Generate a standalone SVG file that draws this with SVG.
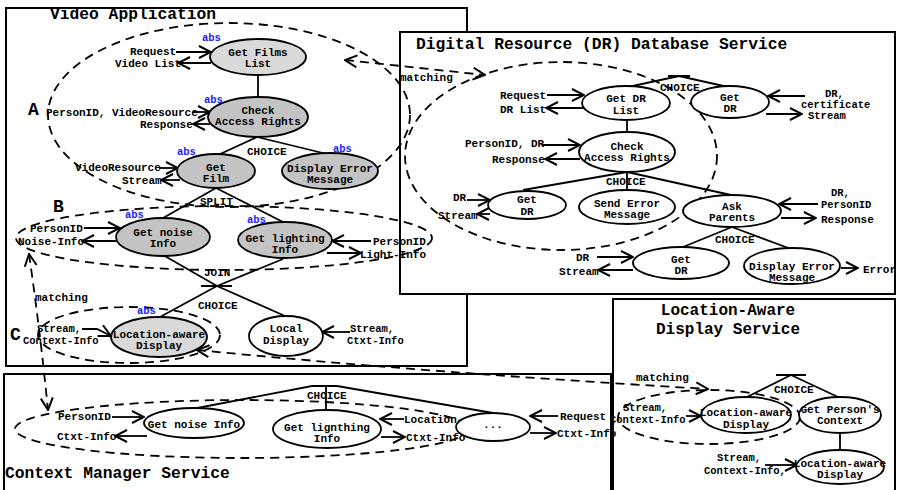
<svg xmlns="http://www.w3.org/2000/svg" width="898" height="490" viewBox="0 0 898 490">
<defs>
<style>
.fr{fill:#fff;stroke:#000;stroke-width:2}
.t{font-family:"Liberation Mono","Courier New",monospace;font-weight:bold;font-size:11px;fill:#000}
.s{font-size:10.5px}
.c{text-anchor:middle}
.ttl{font-size:16.3px}
.abs{font-size:10.5px;fill:#1a1aff}
.big{font-size:18px}
.nd{stroke:#000;stroke-width:1.8}
.w{fill:#fff}
.g1{fill:#d9d9d9}
.g2{fill:#c4c4c4}
.ln{fill:none;stroke:#000;stroke-width:1.8}
.ar{fill:none;stroke:#000;stroke-width:1.8;marker-end:url(#ah)}
.ds{fill:none;stroke:#000;stroke-width:1.8;stroke-dasharray:9,6}
.dm{fill:none;stroke:#000;stroke-width:1.8;stroke-dasharray:9,6;marker-end:url(#ah);marker-start:url(#ahs)}
</style>
<marker id="ah" viewBox="0 0 14 14" refX="13" refY="7" markerWidth="14" markerHeight="14" markerUnits="userSpaceOnUse" orient="auto"><path d="M1,1 L13,7 L1,13" fill="none" stroke="#000" stroke-width="2" stroke-dasharray="none"/></marker>
<marker id="ahs" viewBox="0 0 14 14" refX="13" refY="7" markerWidth="14" markerHeight="14" markerUnits="userSpaceOnUse" orient="auto-start-reverse"><path d="M1,1 L13,7 L1,13" fill="none" stroke="#000" stroke-width="2" stroke-dasharray="none"/></marker>
</defs>
<rect width="898" height="490" fill="#fff"/>

<g id="frame-video">
<rect class="fr" x="6" y="8" width="461" height="358"/>
<text class="t ttl" x="50" y="19">Video Application</text>
</g>
<g id="frame-dr">
<rect class="fr" x="400" y="32" width="495" height="262"/>
<text class="t ttl" x="416" y="49">Digital Resource (DR) Database Service</text>
</g>
<g id="frame-lads">
<rect class="fr" x="613" y="299" width="282" height="200"/>
<text class="t ttl c" x="728" y="315" style="font-size:16px">Location-Aware</text>
<text class="t ttl c" x="728" y="334" style="font-size:16px">Display Service</text>
</g>
<g id="frame-cm">
<rect class="fr" x="4" y="374" width="607" height="130"/>
<text class="t ttl" x="5" y="478">Context Manager Service</text>
</g>

<g id="scopes">
<ellipse class="ds" cx="229" cy="115" rx="181" ry="92"/>
<ellipse class="ds" cx="224" cy="238" rx="208" ry="32"/>
<ellipse class="ds" cx="129" cy="335" rx="91" ry="28"/>
<ellipse class="ds" cx="561" cy="156" rx="156" ry="94"/>
<ellipse class="ds" cx="709" cy="417" rx="91" ry="27"/>
<ellipse class="ds" cx="242" cy="429" rx="227" ry="29"/>
<text class="t big" x="28" y="115">A</text>
<text class="t big" x="53" y="212">B</text>
<text class="t big" x="10" y="340">C</text>
</g>

<g id="connectors">
<!-- Video app tree -->
<path class="ln" d="M258,75 V98"/>
<path class="ln" d="M257,137 L218,155 M257,137 L327,154"/>
<text class="t" x="247" y="155">CHOICE</text>
<path class="ln" d="M216,188 L163,218 M216,188 L283,222"/>
<text class="t" x="200" y="205">SPLIT</text>
<path class="ln" d="M163,255 L217,286 L285,316 M283,259 L217,286 L160,317 M201,286 H232"/>
<text class="t" x="204" y="276">JOIN</text>
<text class="t" x="198" y="309">CHOICE</text>
<!-- DR tree -->
<path class="ln" d="M628,87 L679,76 L728,87 M668,76 H690"/>
<text class="t" x="660" y="91">CHOICE</text>
<path class="ln" d="M627,120 V132"/>
<path class="ln" d="M627,172 L523,190 M627,172 V190 M627,172 L731,195"/>
<text class="t" x="606" y="185">CHOICE</text>
<path class="ln" d="M732,227 L683,247 M732,227 L791,249"/>
<text class="t" x="715" y="243">CHOICE</text>
<!-- LADS tree -->
<path class="ln" d="M776,375 H806 M791,375 L745,398 M791,375 L838,397 M840,433 V450"/>
<text class="t" x="774" y="393">CHOICE</text>
<!-- CM tree -->
<path class="ln" d="M312,386 H337 M312,386 L192,409 M337,386 L493,413 M326,386 V410"/>
<text class="t" x="307" y="399">CHOICE</text>

<!-- Video app io -->
<path class="ar" d="M176,52 H211"/>
<text class="t" x="130" y="55">Request</text>
<path class="ar" d="M211,63 H178"/>
<text class="t" x="115" y="67">Video List</text>
<path class="ar" d="M193,112 H210"/>
<text class="t" x="46" y="116">PersonID, VideoResource</text>
<path class="ar" d="M210,124 H193"/>
<text class="t" x="140" y="128">Response</text>
<path class="ar" d="M159,168 H178"/>
<text class="t" x="75" y="171">VideoResource</text>
<path class="ar" d="M180,180 H161"/>
<text class="t" x="122" y="184">Stream</text>
<path class="ar" d="M84,228 H120"/>
<text class="t" x="30" y="232">PersonID</text>
<path class="ar" d="M118,241 H82"/>
<text class="t" x="18" y="245">Noise-Info</text>
<path class="ar" d="M371,241 H332"/>
<text class="t" x="373" y="245">PersonID</text>
<path class="ar" d="M327,253 H361"/>
<text class="t" x="360" y="258">Light-Info</text>
<path class="ar" d="M82,329 L97,329 L111,336"/>
<text class="t s" x="37" y="332">Stream,</text>
<text class="t s" x="23" y="344">Context-Info</text>
<path class="ar" d="M350,332 H322"/>
<text class="t s" x="350" y="332">Stream,</text>
<text class="t s" x="347" y="344">Ctxt-Info</text>

<!-- DR io -->
<path class="ar" d="M547,95 H584"/>
<text class="t" x="500" y="99">Request</text>
<path class="ar" d="M584,108 H546"/>
<text class="t" x="500" y="113">DR List</text>
<path class="ar" d="M805,96 H768"/>
<path class="ar" d="M766,114 H802"/>
<text class="t s" x="825" y="97">DR,</text>
<text class="t s" x="801" y="108">certificate</text>
<text class="t s" x="808" y="119">Stream</text>
<path class="ar" d="M542,145 H580"/>
<text class="t" x="465" y="147">PersonID, DR</text>
<path class="ar" d="M580,159 H545"/>
<text class="t" x="492" y="163">Response</text>
<path class="ar" d="M467,200 H490"/>
<text class="t" x="453" y="201">DR</text>
<path class="ar" d="M490,214 H477"/>
<text class="t" x="438" y="219">Stream</text>
<path class="ar" d="M818,204 H779"/>
<path class="ar" d="M781,218 H816"/>
<text class="t s" x="831" y="196">DR,</text>
<text class="t s" x="821" y="208">PersonID</text>
<text class="t" x="821" y="223">Response</text>
<path class="ar" d="M597,257 H633"/>
<text class="t" x="576" y="261">DR</text>
<path class="ar" d="M633,270 H598"/>
<text class="t" x="559" y="275">Stream</text>
<path class="ar" d="M841,268 H858"/>
<text class="t" x="863" y="273">Error</text>

<!-- LADS io -->
<path class="ar" d="M686,416 H701"/>
<text class="t s" x="623" y="411">Stream,</text>
<text class="t s" x="610" y="423">Context-Info</text>
<path class="ar" d="M765,465 H797"/>
<text class="t s" x="717" y="461">Stream,</text>
<text class="t s" x="704" y="474">Context-Info,</text>

<!-- CM io -->
<path class="ar" d="M112,417 H144"/>
<text class="t" x="58" y="420">PersonID</text>
<path class="ar" d="M147,436 H115"/>
<text class="t" x="57" y="440">Ctxt-Info</text>
<path class="ar" d="M404,419 H380"/>
<text class="t" x="404" y="423">Location</text>
<path class="ar" d="M381,437 H405"/>
<text class="t" x="406" y="441">Ctxt-Info</text>
<path class="ar" d="M558,416 H530"/>
<text class="t" x="560" y="420">Request</text>
<path class="ar" d="M530,433 H556"/>
<text class="t" x="557" y="437">Ctxt-Info</text>

<!-- matching -->
<path class="dm" d="M345,60 L485,75"/>
<text class="t" x="400" y="81">matching</text>
<path class="dm" d="M29,254 Q40,330 48,410"/>
<text class="t" x="35" y="301">matching</text>
<path class="dm" d="M197,350 Q420,372 708,389"/>
<text class="t" x="636" y="381">matching</text>
</g>

<g id="n-get-films-list"><ellipse class="nd g1" cx="258" cy="57" rx="48" ry="18"/><text class="t c" x="258" y="56">Get Films</text><text class="t c" x="258" y="67">List</text><text class="t abs" x="202" y="41">abs</text></g>
<g id="n-check-access-rights"><ellipse class="nd g2" cx="258" cy="117" rx="50" ry="20"/><text class="t c" x="258" y="114">Check</text><text class="t c" x="258" y="125">Access Rights</text><text class="t abs" x="204" y="103">abs</text></g>
<g id="n-get-film"><ellipse class="nd g2" cx="216" cy="171" rx="39" ry="17"/><text class="t c" x="216" y="171">Get</text><text class="t c" x="216" y="182">Film</text><text class="t abs" x="177" y="155">abs</text></g>
<g id="n-display-error"><ellipse class="nd g2" cx="330" cy="171" rx="48" ry="18"/><text class="t c" x="330" y="172">Display Error</text><text class="t c" x="330" y="183">Message</text><text class="t abs" x="333" y="152">abs</text></g>
<g id="n-get-noise-info"><ellipse class="nd g2" cx="163" cy="237" rx="47" ry="19"/><text class="t c" x="163" y="236">Get noise</text><text class="t c" x="163" y="247">Info</text><text class="t abs" x="125" y="218">abs</text></g>
<g id="n-get-lighting-info"><ellipse class="nd g2" cx="285" cy="240" rx="47" ry="18"/><text class="t c" x="285" y="242">Get lighting</text><text class="t c" x="285" y="253">Info</text><text class="t abs" x="247" y="223">abs</text></g>
<g id="n-location-aware-display"><ellipse class="nd g1" cx="159" cy="337" rx="48" ry="20"/><text class="t c" x="159" y="338">Location-aware</text><text class="t c" x="159" y="349">Display</text><text class="t abs" x="137" y="314">abs</text></g>
<g id="n-local-display"><ellipse class="nd w" cx="286" cy="336" rx="37" ry="20"/><text class="t c" x="286" y="332">Local</text><text class="t c" x="286" y="344">Display</text></g>

<g id="n-get-dr-list"><ellipse class="nd w" cx="626" cy="103" rx="44" ry="17"/><text class="t c" x="626" y="102">Get DR</text><text class="t c" x="626" y="114">List</text></g>
<g id="n-get-dr-top"><ellipse class="nd w" cx="730" cy="102" rx="39" ry="16"/><text class="t c" x="730" y="101">Get</text><text class="t c" x="730" y="112">DR</text></g>
<g id="n-dr-check-access"><ellipse class="nd w" cx="627" cy="152" rx="48" ry="20"/><text class="t c" x="627" y="150">Check</text><text class="t c" x="627" y="161">Access Rights</text></g>
<g id="n-get-dr-left"><ellipse class="nd w" cx="527" cy="205" rx="39" ry="14"/><text class="t c" x="527" y="203">Get</text><text class="t c" x="527" y="215">DR</text></g>
<g id="n-send-error"><ellipse class="nd w" cx="627" cy="207" rx="48" ry="17"/><text class="t c" x="627" y="207">Send Error</text><text class="t c" x="627" y="218">Message</text></g>
<g id="n-ask-parents"><ellipse class="nd w" cx="732" cy="211" rx="49" ry="16"/><text class="t c" x="732" y="210">Ask</text><text class="t c" x="732" y="221">Parents</text></g>
<g id="n-get-dr-bottom"><ellipse class="nd w" cx="681" cy="263" rx="48" ry="16"/><text class="t c" x="681" y="263">Get</text><text class="t c" x="681" y="274">DR</text></g>
<g id="n-dr-display-error"><ellipse class="nd w" cx="792" cy="266" rx="48" ry="18"/><text class="t c" x="792" y="270">Display Error</text><text class="t c" x="792" y="281">Message</text></g>

<g id="n-lads-display-1"><ellipse class="nd w" cx="746" cy="415" rx="45" ry="18"/><text class="t c" x="746" y="416">Location-aware</text><text class="t c" x="746" y="428">Display</text></g>
<g id="n-persons-context"><ellipse class="nd w" cx="840" cy="415" rx="41" ry="18"/><text class="t c" x="840" y="413">Get Person's</text><text class="t c" x="840" y="424">Context</text></g>
<g id="n-lads-display-2"><ellipse class="nd w" cx="840" cy="467" rx="44" ry="17"/><text class="t c" x="840" y="467">Location-aware</text><text class="t c" x="840" y="478">Display</text></g>

<g id="n-cm-noise"><ellipse class="nd w" cx="194" cy="423" rx="50" ry="15"/><text class="t c" x="194" y="428">Get noise Info</text></g>
<g id="n-cm-lighting"><ellipse class="nd w" cx="327" cy="429" rx="54" ry="19"/><text class="t c" x="327" y="431">Get lignthing</text><text class="t c" x="327" y="442">Info</text></g>
<g id="n-cm-dots"><ellipse class="nd w" cx="493" cy="427" rx="37" ry="14"/><text class="t c" x="493" y="428">...</text></g>
</svg>
